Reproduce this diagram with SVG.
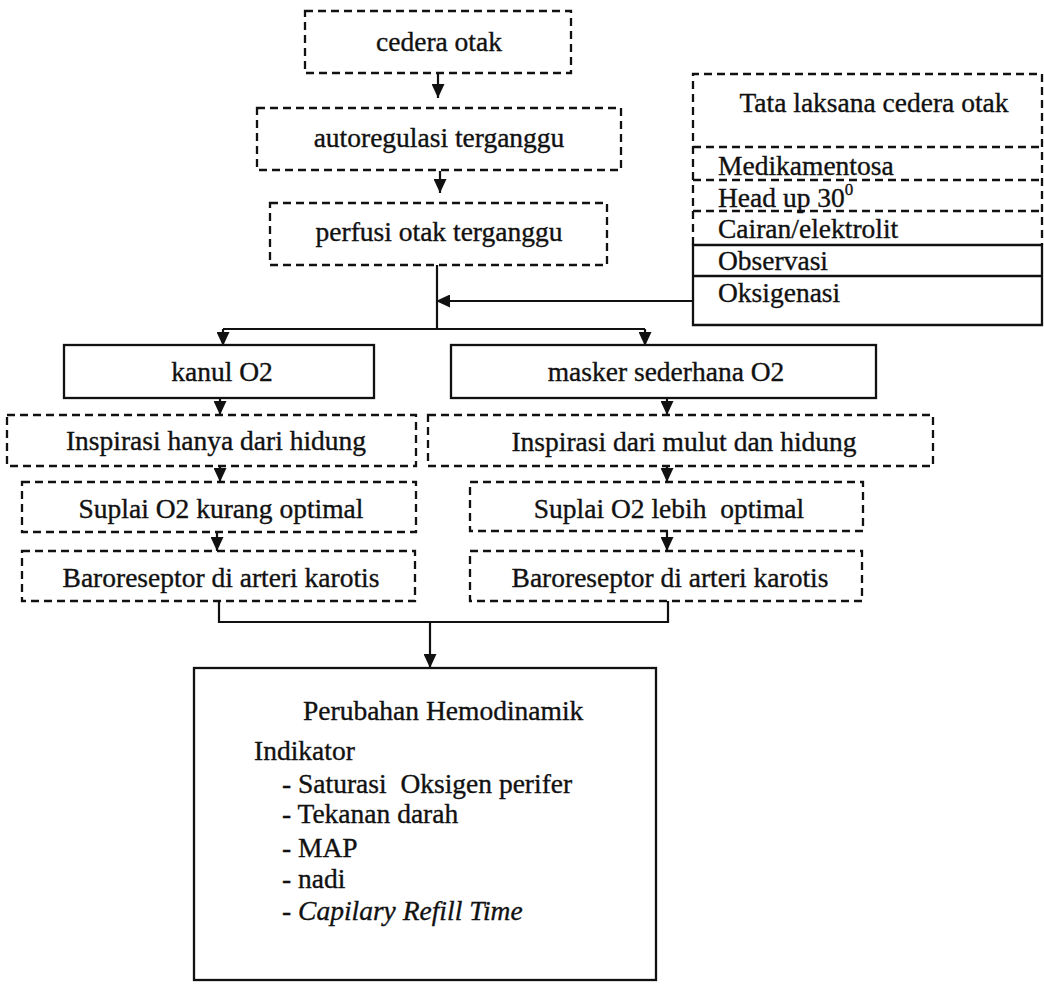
<svg xmlns="http://www.w3.org/2000/svg" width="1044" height="984" viewBox="0 0 1044 984">
<style>
  text { font-family: "Liberation Serif", "Times New Roman", serif; font-size: 27.5px; fill: #111; stroke: #111; stroke-width: 0.35; white-space: pre; }
  .c { text-anchor: middle; }
  .dash { fill: none; stroke: #111; stroke-width: 2.3; stroke-dasharray: 8 5; }
  .solid { fill: none; stroke: #111; stroke-width: 2.3; }
  .conn { fill: none; stroke: #111; stroke-width: 2.2; }
  .arr { marker-end: url(#ah); }
</style>
<defs>
  <marker id="ah" viewBox="0 0 14 13" markerWidth="14" markerHeight="13" refX="14" refY="6.5" orient="auto" markerUnits="userSpaceOnUse">
    <path d="M0,0 L14,6.5 L0,13 z" fill="#111"/>
  </marker>
</defs>
<rect width="1044" height="984" fill="#fff"/>

<g id="connectors">
  <path class="conn arr" d="M438,74 V98"/>
  <path class="conn arr" d="M440,171 V193"/>
  <path class="conn" d="M437,265 V329"/>
  <path class="conn arr" d="M693,301 H436"/>
  <path class="conn" d="M223,329 H645"/>
  <path class="conn arr" d="M223,329 V346"/>
  <path class="conn arr" d="M645,329 V346"/>
  <path class="conn arr" d="M220,398 V415"/>
  <path class="conn arr" d="M667,398 V415"/>
  <path class="conn arr" d="M220,466 V482"/>
  <path class="conn arr" d="M667,466 V482"/>
  <path class="conn arr" d="M217,532 V551"/>
  <path class="conn arr" d="M667,531 V551"/>
  <path class="conn" d="M219,601 V622 H668 V601"/>
  <path class="conn arr" d="M430,622 V668"/>
</g>

<g id="cedera-otak">
  <rect class="dash" x="305" y="11" width="266" height="62"/>
  <text class="c" x="439" y="51">cedera otak</text>
</g>

<g id="autoregulasi">
  <rect class="dash" x="257" y="108" width="364" height="62"/>
  <text class="c" x="439" y="147">autoregulasi terganggu</text>
</g>

<g id="perfusi">
  <rect class="dash" x="270" y="203" width="337" height="62"/>
  <text class="c" x="439" y="241">perfusi otak terganggu</text>
</g>

<g id="tata-laksana">
  <path class="dash" d="M693,245 V74 H1042 V245"/>
  <path class="dash" d="M693,147 H1042 M693,180 H1042 M693,211 H1042"/>
  <path class="solid" d="M693,245 H1042 V325 H693 Z M693,276 H1042"/>
  <text class="c" x="874" y="112">Tata laksana cedera otak</text>
  <text x="718" y="175">Medikamentosa</text>
  <text x="718" y="207">Head up 30<tspan font-size="17" dy="-12">0</tspan></text>
  <text x="718" y="238">Cairan/elektrolit</text>
  <text x="718" y="270">Observasi</text>
  <text x="718" y="302">Oksigenasi</text>
</g>

<g id="kanul">
  <rect class="solid" x="64" y="345" width="310" height="53"/>
  <text class="c" x="222" y="381">kanul O2</text>
</g>

<g id="masker">
  <rect class="solid" x="451" y="345" width="425" height="53"/>
  <text class="c" x="666" y="381">masker sederhana O2</text>
</g>

<g id="inspirasi-hidung">
  <rect class="dash" x="7" y="415" width="409" height="51"/>
  <text class="c" x="216" y="450">Inspirasi hanya dari hidung</text>
</g>

<g id="inspirasi-mulut">
  <rect class="dash" x="428" y="415" width="505" height="51"/>
  <text class="c" x="684" y="451">Inspirasi dari mulut dan hidung</text>
</g>

<g id="suplai-kurang">
  <rect class="dash" x="22" y="482" width="394" height="50"/>
  <text class="c" x="221" y="518">Suplai O2 kurang optimal</text>
</g>

<g id="suplai-lebih">
  <rect class="dash" x="470" y="482" width="393" height="49"/>
  <text class="c" x="669" y="518">Suplai O2 lebih  optimal</text>
</g>

<g id="baroreseptor-kiri">
  <rect class="dash" x="22" y="551" width="393" height="50"/>
  <text class="c" x="221" y="587">Baroreseptor di arteri karotis</text>
</g>

<g id="baroreseptor-kanan">
  <rect class="dash" x="470" y="551" width="392" height="50"/>
  <text class="c" x="670" y="587">Baroreseptor di arteri karotis</text>
</g>

<g id="hemodinamik">
  <rect class="solid" x="194" y="668" width="462" height="312"/>
  <text x="303" y="720">Perubahan Hemodinamik</text>
  <text x="254" y="760">Indikator</text>
  <text x="282" y="793">- Saturasi  Oksigen perifer</text>
  <text x="282" y="823">- Tekanan darah</text>
  <text x="282" y="857">- MAP</text>
  <text x="282" y="888">- nadi</text>
  <text x="282" y="920">- <tspan font-style="italic">Capilary Refill Time</tspan></text>
</g>
</svg>
